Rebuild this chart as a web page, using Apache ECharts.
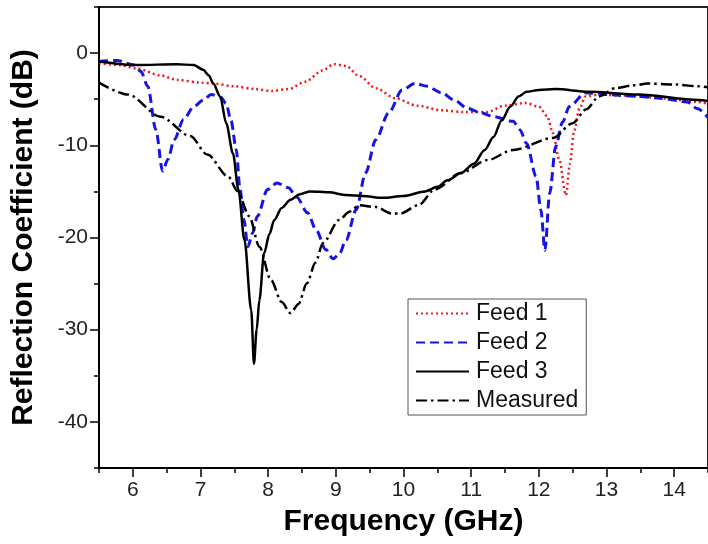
<!DOCTYPE html>
<html>
<head>
<meta charset="utf-8">
<script src="https://cdn.jsdelivr.net/npm/echarts@6/dist/echarts.min.js"></script>
<style>
html,body{margin:0;padding:0;background:#fff;}
#chart{width:708px;height:544px;}
</style>
</head>
<body>
<div id="chart"></div>
<script>
// ---- data ----
var xMajorTicks = [6, 7, 8, 9, 10, 11, 12, 13, 14];
var xMinorTicks = [5.5, 6.5, 7.5, 8.5, 9.5, 10.5, 11.5, 12.5, 13.5, 14.5];
var yMajorTicks = [-40, -30, -20, -10, 0];
var yMinorTicks = [-45, -35, -25, -15, -5, 5];

var seriesNames = ['Feed 1', 'Feed 2', 'Feed 3', 'Measured'];

var feed1X = [5.5, 5.8, 6.07, 6.4, 6.65, 7.0, 7.19, 7.5, 7.8, 8.06, 8.3, 8.55, 8.8, 8.97, 9.15, 9.35, 9.59, 9.88, 10.2, 10.56, 10.9, 11.23, 11.5, 11.8, 12.0, 12.12, 12.21, 12.3, 12.4, 12.46, 12.52, 12.6, 12.69, 12.9, 13.2, 13.5, 13.8, 14.1, 14.34, 14.5];
var feed1Y = [-1.1, -1.3, -1.7, -2.4, -2.9, -3.2, -3.3, -3.6, -3.9, -4.1, -3.9, -3.1, -1.9, -1.2, -1.4, -2.5, -3.8, -4.9, -5.7, -6.2, -6.4, -6.4, -5.7, -5.4, -5.8, -6.8, -8.7, -11.5, -15.4, -12, -8.5, -6.0, -4.7, -4.5, -4.6, -4.7, -4.9, -5.1, -5.3, -5.5];

var feed2X = [5.5, 5.76, 6.02, 6.12, 6.22, 6.34, 6.44, 6.52, 6.61, 6.75, 6.9, 7.04, 7.16, 7.3, 7.38, 7.45, 7.53, 7.58, 7.64, 7.7, 7.77, 7.84, 7.99, 8.13, 8.3, 8.42, 8.58, 8.71, 8.85, 8.96, 9.05, 9.15, 9.3, 9.44, 9.59, 9.78, 9.98, 10.17, 10.35, 10.56, 10.75, 10.95, 11.15, 11.33, 11.62, 11.72, 11.82, 11.96, 12.03, 12.09, 12.16, 12.25, 12.35, 12.45, 12.69, 13.0, 13.47, 13.8, 14.19, 14.34, 14.5];
var feed2Y = [-0.9, -0.8, -1.3, -2.0, -3.6, -8.3, -12.8, -11.5, -9.4, -7.2, -5.8, -5.1, -4.5, -4.8, -5.5, -7.3, -10.5, -14.5, -18, -21, -19.5, -17.7, -14.8, -14.1, -14.6, -15.6, -17.3, -19.2, -21.3, -22.3, -21.8, -20.3, -17, -13, -9.4, -6.5, -4.0, -3.3, -3.6, -4.3, -5.1, -6.0, -6.5, -6.9, -7.4, -8.3, -9.8, -13.4, -17, -21.4, -15.2, -10.1, -7.5, -5.8, -4.3, -4.5, -4.7, -4.9, -5.3, -6.0, -7.0];

var feed3X = [5.5, 6.07, 6.65, 6.9, 7.04, 7.12, 7.19, 7.29, 7.38, 7.48, 7.56, 7.65, 7.75, 7.79, 7.83, 7.87, 7.94, 8.02, 8.09, 8.2, 8.33, 8.47, 8.62, 8.9, 9.15, 9.4, 9.69, 10.0, 10.32, 10.5, 10.65, 10.85, 11.04, 11.2, 11.33, 11.45, 11.58, 11.7, 11.82, 12.0, 12.25, 12.74, 13.47, 14.36, 14.5];
var feed3Y = [-0.9, -1.3, -1.2, -1.3, -1.8, -2.4, -3.3, -4.7, -7.6, -10.9, -14.8, -20.3, -27.9, -33.7, -30, -26.8, -21.7, -19.6, -18.1, -16.8, -15.9, -15.3, -15.0, -15.1, -15.4, -15.5, -15.7, -15.5, -15.0, -14.5, -13.8, -13.0, -12.0, -10.5, -9.1, -7.3, -5.8, -4.7, -4.2, -4.0, -3.9, -4.2, -4.5, -5.1, -5.2];

var measX = [5.5, 5.93, 6.41, 6.85, 7.1, 7.41, 7.55, 7.72, 7.87, 8.04, 8.2, 8.33, 8.45, 8.57, 8.7, 8.81, 9.05, 9.2, 9.35, 9.59, 9.83, 9.95, 10.22, 10.46, 10.85, 11.24, 11.62, 12.21, 12.5, 12.7, 12.89, 13.13, 13.4, 13.61, 14.0, 14.36, 14.5];
var measY = [-3.2, -4.5, -6.9, -9.0, -11.0, -13.4, -15.0, -17.7, -21.0, -24.6, -27.0, -28.2, -27.2, -25.0, -22.7, -20.6, -18.1, -17.2, -16.5, -16.7, -17.4, -17.4, -16.5, -14.8, -13.0, -11.6, -10.5, -9.2, -7.6, -6.1, -4.7, -3.8, -3.5, -3.3, -3.4, -3.6, -3.7];

function pairs(xs, ys) { return xs.map(function (x, i) { return [x, ys[i]]; }); }

var FONT = '"Liberation Sans", Arial, sans-serif';
var chart = echarts.init(document.getElementById('chart'));

var lineBase = { type: 'line', showSymbol: false, symbol: 'none', smooth: 0.3, smoothMonotone: 'x', animation: false, xAxisIndex: 0, yAxisIndex: 0 };

chart.setOption({
  backgroundColor: '#fff',
  animation: false,
  grid: { left: 99, right: -10, top: 7, bottom: 76, show: true, borderColor: '#222', borderWidth: 2, backgroundColor: 'transparent' },
  legend: {
    orient: 'vertical', left: 408, top: 299,
    padding: [3, 8, 3, 7], itemGap: 6, itemWidth: 53, itemHeight: 14,
    borderColor: '#555', borderWidth: 1, backgroundColor: '#fff',
    itemStyle: { opacity: 0 },
    textStyle: { fontFamily: FONT, fontSize: 23, color: '#111', padding: [0, 0, 0, 2] },
    data: seriesNames
  },
  xAxis: [
    {
      type: 'value', min: 5.5, max: 14.5,
      name: 'Frequency (GHz)', nameLocation: 'middle', nameGap: 39,
      nameTextStyle: { fontFamily: FONT, fontSize: 30, fontWeight: 'bold', color: '#000' },
      axisLine: { show: true, onZero: false, lineStyle: { color: '#000', width: 2 } },
      axisTick: { show: true, inside: false, length: 9, customValues: xMajorTicks, lineStyle: { color: '#000', width: 1.5 } },
      axisLabel: { show: true, margin: 12, customValues: xMajorTicks, fontFamily: FONT, fontSize: 21, color: '#222' },
      splitLine: { show: false }
    },
    {
      type: 'value', min: 5.5, max: 14.5, position: 'bottom',
      axisLine: { show: false, onZero: false },
      axisTick: { show: true, inside: false, length: 5, customValues: xMinorTicks, lineStyle: { color: '#000', width: 1.5 } },
      axisLabel: { show: false },
      splitLine: { show: false }
    }
  ],
  yAxis: [
    {
      type: 'value', min: -45, max: 5,
      name: 'Reflection Coefficient (dB)', nameLocation: 'middle', nameGap: 60,
      nameTextStyle: { fontFamily: FONT, fontSize: 30, fontWeight: 'bold', color: '#000' },
      axisLine: { show: true, onZero: false, lineStyle: { color: '#000', width: 2 } },
      axisTick: { show: true, inside: false, length: 9, customValues: yMajorTicks, lineStyle: { color: '#000', width: 1.5 } },
      axisLabel: { show: true, margin: 11, customValues: yMajorTicks, fontFamily: FONT, fontSize: 21, color: '#222' },
      splitLine: { show: false }
    },
    {
      type: 'value', min: -45, max: 5, position: 'left',
      axisLine: { show: false, onZero: false },
      axisTick: { show: true, inside: false, length: 5, customValues: yMinorTicks, lineStyle: { color: '#000', width: 1.5 } },
      axisLabel: { show: false },
      splitLine: { show: false }
    }
  ],
  series: [
    Object.assign({}, lineBase, { name: seriesNames[0], data: pairs(feed1X, feed1Y), color: '#f01818',
      lineStyle: { color: '#f01818', width: 2.5, type: [2, 3] } }),
    Object.assign({}, lineBase, { name: seriesNames[1], data: pairs(feed2X, feed2Y), color: '#1414e6',
      lineStyle: { color: '#1414e6', width: 3, type: [9, 5] } }),
    Object.assign({}, lineBase, { name: seriesNames[2], data: pairs(feed3X, feed3Y), color: '#000',
      lineStyle: { color: '#000', width: 2.5, type: 'solid' } }),
    Object.assign({}, lineBase, { name: seriesNames[3], data: pairs(measX, measY), color: '#000',
      lineStyle: { color: '#000', width: 2.5, type: [11, 4, 2.5, 4] } })
  ]
});
</script>
</body>
</html>
